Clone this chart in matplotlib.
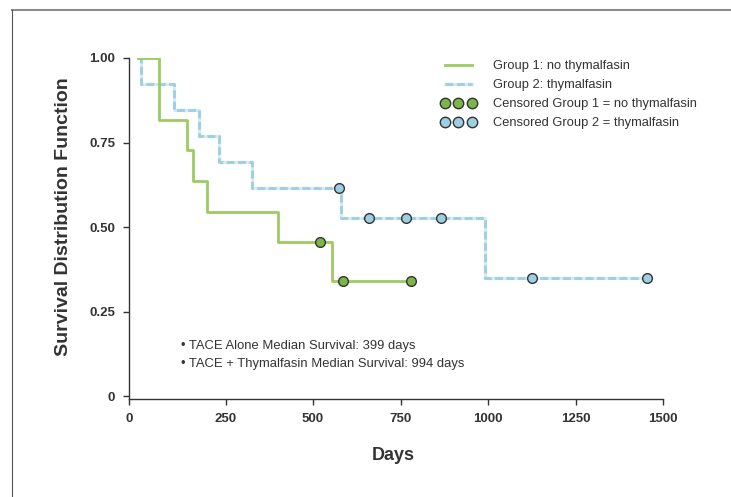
import matplotlib.pyplot as plt
from matplotlib.lines import Line2D

# Kaplan-Meier steps (days, survival)
g1_time = [0, 61, 139, 156, 198, 399, 553, 780]
g1_surv = [1.0, 0.818, 0.727, 0.636, 0.545, 0.455, 0.341, 0.341]
g1_cens_time = [519, 585, 780]
g1_cens_surv = [0.455, 0.341, 0.341]

g2_time = [0, 8, 103, 173, 231, 325, 579, 990, 1453]
g2_surv = [1.0, 0.923, 0.846, 0.769, 0.692, 0.615, 0.527, 0.351, 0.351]
g2_cens_time = [574, 661, 766, 866, 1126, 1453]
g2_cens_surv = [0.615, 0.527, 0.527, 0.527, 0.351, 0.351]

x_ticks = [250, 500, 750, 1000, 1250, 1500]
y_ticks = [0, 0.25, 0.5, 0.75, 1.0]
y_labels = ['0', '0.25', '0.50', '0.75', '1.00']
notes = ['• TACE Alone Median Survival: 399 days',
         '• TACE + Thymalfasin Median Survival: 994 days']

plt.rcParams['font.family'] = ['Liberation Sans', 'DejaVu Sans']

green_line = '#9ccb62'
green_dot = '#7ab648'
blue_line = '#9fd0e3'
blue_pale = '#d6ecf4'
blue_dot = '#9ccfe2'
dark = '#333333'

fig = plt.figure(figsize=(7.31, 4.97), dpi=100)
ax = fig.add_axes([129 / 731, 1 - 399 / 497, (663 - 129) / 731, (399 - 58) / 497])

# group 2 (dashed over pale solid)
ax.step(g2_time, g2_surv, where='post', color=blue_pale, lw=2.2, zorder=2)
ax.step(g2_time, g2_surv, where='post', color=blue_line, lw=2.2,
        dashes=(2.6, 1.1), zorder=3)
# group 1
ax.step(g1_time, g1_surv, where='post', color=green_line, lw=2.0, zorder=4)

ax.plot(g1_cens_time, g1_cens_surv, 'o', ms=7, mfc=green_dot, mec=dark, mew=1, zorder=5)
ax.plot(g2_cens_time, g2_cens_surv, 'o', ms=7, mfc=blue_dot, mec=dark, mew=1, zorder=5)

ax.set_xlim(-26, 1500)
ax.set_ylim(-0.008, 1.0)
ax.set_xticks([-26] + x_ticks)
ax.set_xticklabels(['0'] + [str(t) for t in x_ticks])
ax.set_yticks(y_ticks)
ax.set_yticklabels(y_labels)
for lab in ax.get_xticklabels() + ax.get_yticklabels():
    lab.set_fontweight('bold')
ax.tick_params(direction='out', length=4, width=1, color=dark, labelcolor=dark,
               labelsize=9.5, pad=6)
ax.spines['top'].set_visible(False)
ax.spines['right'].set_visible(False)
for s in ['left', 'bottom']:
    ax.spines[s].set_color(dark)
    ax.spines[s].set_linewidth(1)

ax.set_xlabel('Days', fontsize=13, fontweight='bold', color=dark)
ax.xaxis.set_label_coords((393 - 129) / 534, -(456 - 399) / 341)
ax.xaxis.label.set_va('center')
ax.set_ylabel('Survival Distribution Function', fontsize=14, fontweight='bold',
              color=dark)
ax.yaxis.set_label_coords((64 - 129) / 534, (399 - 216.5) / 341)
ax.yaxis.label.set_va('center')

for i, t in enumerate(notes):
    fig.text(181 / 731, 1 - (346 + 17.5 * i) / 497, t, fontsize=9.4, color=dark,
             va='center', ha='left')

# legend
h1 = Line2D([], [], color=green_line, lw=2.0)
h2a = Line2D([], [], color=blue_pale, lw=2.2)
h2b = Line2D([], [], color=blue_line, lw=2.2, dashes=(2.6, 1.1))
h3 = Line2D([], [], ls='none', marker='o', ms=7.5, mfc=green_dot, mec=dark, mew=1)
h4 = Line2D([], [], ls='none', marker='o', ms=7.5, mfc=blue_dot, mec=dark, mew=1)
leg = ax.legend([h1, (h2a, h2b), h3, h4],
                ['Group 1: no thymalfasin', 'Group 2: thymalfasin',
                 'Censored Group 1 = no thymalfasin', 'Censored Group 2 = thymalfasin'],
                loc='upper left', bbox_to_anchor=(441 / 731, 1 - 60 / 497),
                bbox_transform=fig.transFigure, frameon=False, numpoints=3,
                fontsize=9.3, handlelength=2.7, handletextpad=1.3,
                labelspacing=0.54, borderpad=0, borderaxespad=0)
for t in leg.get_texts():
    t.set_color(dark)

# page frame lines
fig.add_artist(Line2D([11.5 / 731, 1], [1 - 9.8 / 497, 1 - 9.8 / 497],
                      transform=fig.transFigure, color='#8c8c8c', lw=1.5))
fig.add_artist(Line2D([11.5 / 731, 11.5 / 731], [0, 1 - 9.8 / 497],
                      transform=fig.transFigure, color='#555555', lw=0.8))

fig.savefig('out.png', dpi=100)
